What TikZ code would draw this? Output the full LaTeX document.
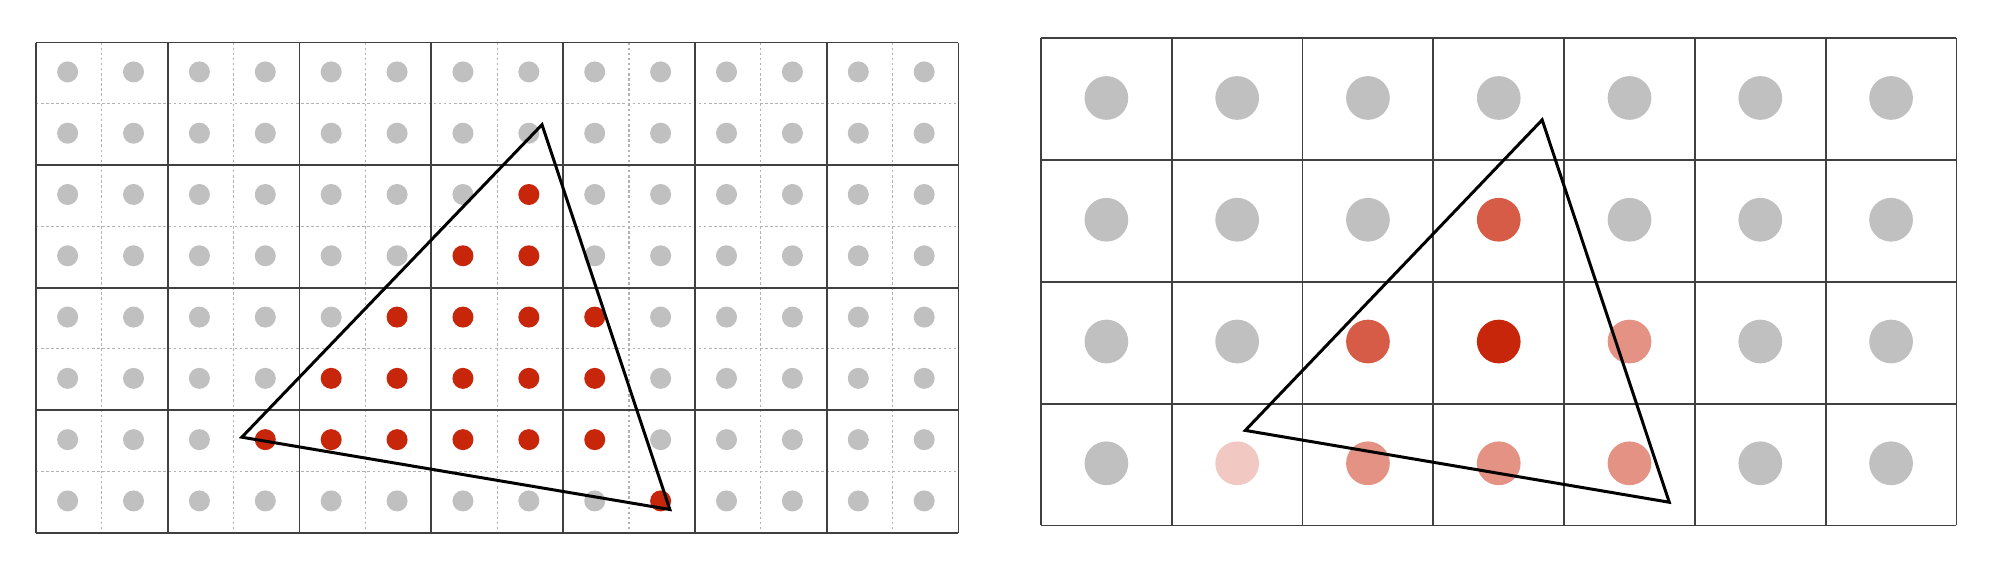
\documentclass[tikz,border=0pt]{standalone}
\usepackage{tikz}

\definecolor{hitred}{HTML}{C8260A}
\definecolor{missgray}{HTML}{C0C0C0}

\tikzset{
	coarse/.style={draw=black!75, line width=0.5pt},
	fine/.style={draw=black!30, line width=0.3pt, dash pattern=on 0.7pt off 0.75pt},
	sample/.style={circle, inner sep=0pt, minimum size=0.21cm, fill=#1},
	pixel/.style={circle, inner sep=0pt, minimum size=0.437cm, fill=#1},
	tri/.style={draw=black, line width=0.85pt}
}

% samples inside the triangle (col/row on the fine grid)
\foreach \c/\r in {7/2, 6/3, 7/3, 5/4, 6/4, 7/4, 8/4, 4/5, 5/5, 6/5, 7/5, 8/5,
	3/6, 4/6, 5/6, 6/6, 7/6, 8/6, 9/7}
	{\expandafter\xdef\csname hit-\c-\r\endcsname{1}}
% coverage of each pixel (col/row/percent)
\foreach \c/\r/\k in {3/1/75, 2/2/75, 3/2/100, 4/2/50, 1/3/25, 2/3/50, 3/3/50, 4/3/50}
	{\expandafter\xdef\csname cov-\c-\r\endcsname{\k}}

\begin{document}
\begin{tikzpicture}[x=0.01cm,y=-0.01cm]
	\useasboundingbox (0,0) rectangle (2000,569);

	% supersampled grid
	\begin{scope}[shift={(36,42.5)},x=1.317cm,y=-1.225cm]
		\foreach \i in {0.5,1.5,...,6.5}
			\draw[fine] (\i,0) -- (\i,4);
		\foreach \j in {0.5,1.5,2.5,3.5}
			\draw[fine] (0,\j) -- (7,\j);
		\foreach \i in {0,...,7}
			\draw[coarse] (\i,0) -- (\i,4);
		\foreach \j in {0,...,4}
			\draw[coarse] (0,\j) -- (7,\j);
		\foreach \c in {0,...,13}
			\foreach \r in {0,...,7} {
				\ifcsname hit-\c-\r\endcsname \def\dotcol{hitred}\else \def\dotcol{missgray}\fi
				\node (s-\c-\r) at ({(\c+0.48)/2},{(\r+0.48)/2}) [sample=\dotcol] {};
			}
		\coordinate (la) at (3.84,0.67);
		\coordinate (lb) at (1.562,3.22);
		\coordinate (lc) at (4.81,3.81);
		\draw[tri] (la) -- (lb) -- (lc) -- cycle;
	\end{scope}

	% resolved pixels
	\begin{scope}[shift={(1041,38.3)},x=1.307cm,y=-1.217cm]
		\foreach \i in {0,...,7}
			\draw[coarse] (\i,0) -- (\i,4);
		\foreach \j in {0,...,4}
			\draw[coarse] (0,\j) -- (7,\j);
		\foreach \c in {0,...,6}
			\foreach \r in {0,...,3} {
				\ifcsname cov-\c-\r\endcsname
					\edef\dotcol{hitred!\csname cov-\c-\r\endcsname!white}
				\else \def\dotcol{missgray}\fi
				\node (p-\c-\r) at (\c+0.5,\r+0.49) [pixel=\dotcol] {};
			}
		\coordinate (ra) at (3.832,0.67);
		\coordinate (rb) at (1.562,3.22);
		\coordinate (rc) at (4.804,3.81);
		\draw[tri] (ra) -- (rb) -- (rc) -- cycle;
	\end{scope}
\end{tikzpicture}
\end{document}
